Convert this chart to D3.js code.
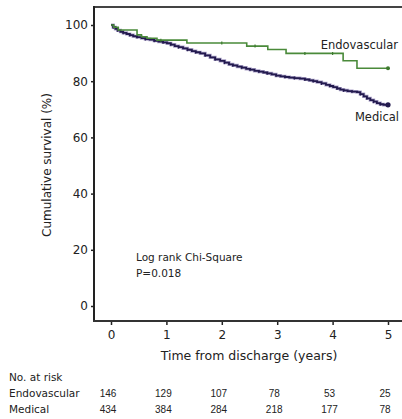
<!DOCTYPE html>
<html>
<head>
<meta charset="utf-8">
<script src="https://cdn.jsdelivr.net/npm/d3@7"></script>
<style>
  body { margin: 0; background: #fff; }
  text { font-family: "DejaVu Sans", sans-serif; fill: #222; }
</style>
</head>
<body>
<div id="chart"></div>
<script>
// survival curves (years, %)
var endoTimes  = [0, 0.05, 0.13, 0.47, 0.55, 0.65, 0.83, 1.37, 2.45, 2.83, 3.16, 4.19, 4.44, 5.0];
var endoSurv   = [100, 99.2, 98.2, 96.5, 95.8, 95.3, 94.6, 93.6, 92.5, 91.3, 89.9, 87.3, 84.6, 84.6];
var endoCensor = [0.9, 2.0, 2.6, 3.5, 4.0];

var medTimes = [0, 0.04, 0.08, 0.12, 0.17, 0.22, 0.28, 0.34, 0.40, 0.47, 0.55, 0.62, 0.70, 0.78, 0.86, 0.94,
                1.01, 1.08, 1.15, 1.22, 1.30, 1.38, 1.46, 1.53, 1.61, 1.70, 1.79, 1.88, 1.97, 2.05, 2.13, 2.20,
                2.28, 2.36, 2.44, 2.51, 2.59, 2.67, 2.75, 2.82, 2.90, 2.98, 3.06, 3.14, 3.22, 3.31, 3.41, 3.50,
                3.58, 3.65, 3.72, 3.80, 3.88, 3.95, 4.01, 4.08, 4.14, 4.20, 4.27, 4.35, 4.44, 4.50, 4.56, 4.62,
                4.68, 4.74, 4.80, 4.86, 4.92, 5.0];
var medSurv  = [100, 99.2, 98.6, 98.1, 97.6, 97.2, 96.8, 96.4, 96.0, 95.7, 95.3, 95.0, 94.8, 94.4, 94.1, 93.8,
                93.5, 93.0, 92.5, 92.1, 91.7, 91.2, 90.7, 90.3, 89.9, 89.2, 88.5, 87.8, 87.2, 86.6, 86.0, 85.6,
                85.2, 84.8, 84.4, 84.1, 83.7, 83.4, 83.1, 82.8, 82.4, 82.0, 81.7, 81.5, 81.3, 81.1, 80.9, 80.6,
                80.3, 80.0, 79.7, 79.2, 78.7, 78.3, 77.9, 77.4, 77.0, 76.7, 76.5, 76.3, 76.1, 75.4, 74.6, 73.9,
                73.3, 72.7, 72.2, 71.8, 71.6, 71.6];

var xTicks = [0, 1, 2, 3, 4, 5];
var yTicks = [0, 20, 40, 60, 80, 100];

var groups   = ["Endovascular", "Medical"];
var riskEndo = [146, 129, 107, 78, 53, 25];
var riskMed  = [434, 384, 284, 218, 177, 78];

var width = 402, height = 419;

var svg = d3.select("#chart").append("svg")
    .attr("width", width)
    .attr("height", height);

var x = d3.scaleLinear().domain([0, 5]).range([111, 388]);
var y = d3.scaleLinear().domain([0, 100]).range([306, 25]);

// frame: top line, left axis, bottom axis
svg.append("line")
    .attr("x1", 94).attr("x2", 402).attr("y1", 7).attr("y2", 7)
    .attr("stroke", "#444").attr("stroke-width", 2);

var yAxis = d3.axisLeft(y).tickValues(yTicks).tickSize(3).tickPadding(3);
var gy = svg.append("g").attr("transform", "translate(94,0)").call(yAxis);
gy.select(".domain").remove();
gy.selectAll("text").style("font-size", "12px").attr("fill", "#222");
gy.selectAll(".tick line").attr("stroke", "#222").attr("stroke-width", 1.5);

svg.append("line")
    .attr("x1", 94).attr("x2", 94).attr("y1", 6).attr("y2", 321)
    .attr("stroke", "#222").attr("stroke-width", 2);

var xAxis = d3.axisBottom(x).tickValues(xTicks).tickFormat(d3.format("d")).tickSize(4).tickPadding(5);
var gx = svg.append("g").attr("transform", "translate(0,321)").call(xAxis);
gx.select(".domain").remove();
gx.selectAll("text").style("font-size", "12px").attr("fill", "#222");
gx.selectAll(".tick line").attr("stroke", "#222").attr("stroke-width", 1.5);

svg.append("line")
    .attr("x1", 93).attr("x2", 402).attr("y1", 321).attr("y2", 321)
    .attr("stroke", "#333").attr("stroke-width", 2);

// axis titles
svg.append("text")
    .attr("x", 249).attr("y", 360)
    .attr("text-anchor", "middle")
    .style("font-size", "12.5px")
    .text("Time from discharge (years)");

svg.append("text")
    .attr("transform", "translate(51,165) rotate(-90)")
    .attr("text-anchor", "middle")
    .style("font-size", "12px")
    .text("Cumulative survival (%)");

// curves
var line = d3.line()
    .x(d => x(d[0]))
    .y(d => y(d[1]))
    .curve(d3.curveStepAfter);

var endo = endoTimes.map((t, i) => [t, endoSurv[i]]);
var med  = medTimes.map((t, i) => [t, medSurv[i]]);

function survAt(data, t) {
    var s = data[0][1];
    data.forEach(function (d) { if (d[0] <= t) s = d[1]; });
    return s;
}

// medical: purple halo + dark core
svg.append("path").datum(med)
    .attr("d", line).attr("fill", "none")
    .attr("stroke", "#6a5a9c").attr("stroke-width", 3.2).attr("stroke-opacity", 0.55);
svg.append("path").datum(med)
    .attr("d", line).attr("fill", "none")
    .attr("stroke", "#231a4e").attr("stroke-width", 1.8);

svg.selectAll(".medTick")
    .data(med.filter((d, i) => i % 2 === 1))
    .enter().append("line")
    .attr("class", "medTick")
    .attr("x1", d => x(d[0])).attr("x2", d => x(d[0]))
    .attr("y1", d => y(d[1]) - 1.5).attr("y2", d => y(d[1]) + 1.5)
    .attr("stroke", "#231a4e").attr("stroke-width", 1);

svg.append("path").datum(endo)
    .attr("d", line).attr("fill", "none")
    .attr("stroke", "#4a8a3a").attr("stroke-width", 1.6);

svg.selectAll(".endoTick")
    .data(endoCensor)
    .enter().append("line")
    .attr("class", "endoTick")
    .attr("x1", d => x(d)).attr("x2", d => x(d))
    .attr("y1", d => y(survAt(endo, d)) - 1.5).attr("y2", d => y(survAt(endo, d)) + 1.5)
    .attr("stroke", "#3d7a2e").attr("stroke-width", 1.2);

// end markers
svg.append("circle")
    .attr("cx", x(5)).attr("cy", y(endoSurv[endoSurv.length - 1]))
    .attr("r", 2).attr("fill", "#3d7a2e");
svg.append("circle")
    .attr("cx", x(5)).attr("cy", y(medSurv[medSurv.length - 1]))
    .attr("r", 2.6).attr("fill", "#231a4e");

// curve labels
svg.append("text")
    .attr("x", 398).attr("y", 49)
    .attr("text-anchor", "end")
    .style("font-size", "11.5px")
    .text(groups[0]);

svg.append("text")
    .attr("x", 399).attr("y", 121)
    .attr("text-anchor", "end")
    .style("font-size", "11.5px")
    .text(groups[1]);

// test result
svg.append("text")
    .attr("x", 136).attr("y", 261)
    .style("font-size", "10.5px")
    .text("Log rank Chi-Square");
svg.append("text")
    .attr("x", 136).attr("y", 277)
    .style("font-size", "10.5px")
    .text("P=0.018");

// numbers at risk
svg.append("text")
    .attr("x", 9).attr("y", 381)
    .style("font-size", "10.5px")
    .text("No. at risk");

[riskEndo, riskMed].forEach(function (row, r) {
    var yy = 397 + r * 16;
    svg.append("text")
        .attr("x", 9).attr("y", yy)
        .style("font-size", "10.5px")
        .text(groups[r]);
    svg.selectAll(".risk" + r)
        .data(row)
        .enter().append("text")
        .attr("class", "risk" + r)
        .attr("x", (d, i) => x(xTicks[i]) - 3)
        .attr("y", yy)
        .attr("text-anchor", "middle")
        .style("font-family", "'Liberation Sans', sans-serif")
        .style("font-size", "10px")
        .text(d => d);
});
</script>
</body>
</html>
